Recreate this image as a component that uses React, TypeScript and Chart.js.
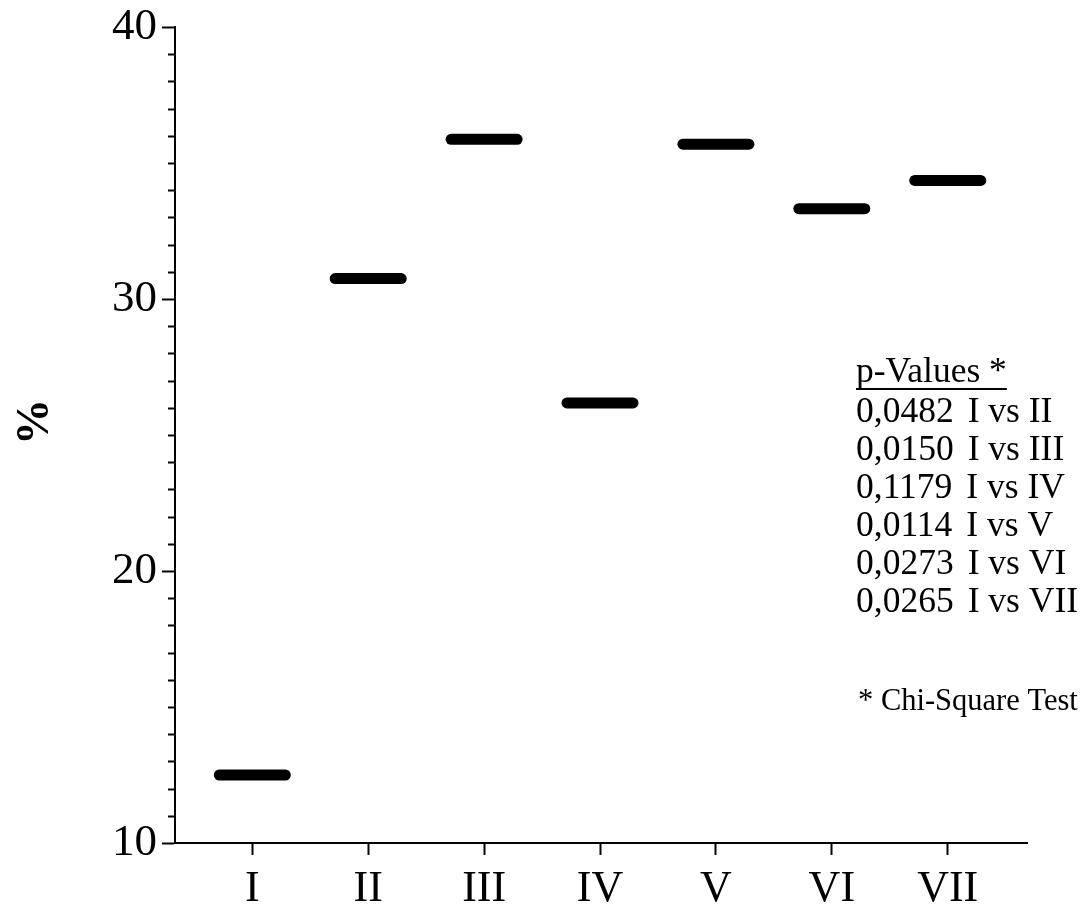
import React, { useEffect, useRef } from 'react';
import { Chart, registerables } from 'chart.js';

Chart.register(...registerables);

// Group labels and the mean percentage for each group
const categories = ['I', 'II', 'III', 'IV', 'V', 'VI', 'VII'];
const values = [12.5, 30.75, 35.87, 26.18, 35.69, 33.32, 34.36];

// Axis range and ticks
const yMin = 10;
const yMax = 40;
const yMajorStep = 10;
const yMinorStep = 1;

// Significance table
const pTitle = 'p-Values *';
const pValues = ['0,0482', '0,0150', '0,1179', '0,0114', '0,0273', '0,0265'];
const comparisons = ['I vs II', 'I vs III', 'I vs IV', 'I vs V', 'I vs VI', 'I vs VII'];
const footnote = '* Chi-Square Test';
const yTitle = '%';

const SERIF = '"Liberation Serif", "Times New Roman", Times, serif';

const minorTicksPlugin = {
  id: 'minorTicks',
  afterDraw(chart: any) {
    const scale = chart.scales.y;
    const ctx = chart.ctx;
    ctx.save();
    ctx.strokeStyle = '#000';
    ctx.lineWidth = 2;
    for (let v = yMin; v <= yMax; v += yMinorStep) {
      if (v % yMajorStep === 0) continue;
      const y = Math.round(scale.getPixelForValue(v)) + 0.5;
      ctx.beginPath();
      ctx.moveTo(scale.right - 7, y);
      ctx.lineTo(scale.right, y);
      ctx.stroke();
    }
    ctx.restore();
  },
};

const roundCapPlugin = {
  id: 'roundCap',
  beforeDatasetDraw(chart: any) {
    chart.ctx.lineCap = 'round';
  },
  afterDatasetDraw(chart: any) {
    chart.ctx.lineCap = 'butt';
  },
};

const annotationPlugin = {
  id: 'pTable',
  afterDraw(chart: any) {
    const ctx = chart.ctx;
    ctx.save();
    ctx.fillStyle = '#000';
    ctx.textAlign = 'left';
    ctx.textBaseline = 'alphabetic';

    // y-axis title
    ctx.save();
    ctx.translate(36, 422);
    ctx.rotate(-Math.PI / 2);
    ctx.textAlign = 'center';
    ctx.textBaseline = 'middle';
    ctx.font = `bold 46px ${SERIF}`;
    ctx.fillText(yTitle, 0, 0);
    ctx.restore();

    const x0 = 856;
    ctx.font = `35.5px ${SERIF}`;
    ctx.fillText(pTitle, x0, 382);
    const w = ctx.measureText(pTitle).width;
    ctx.fillRect(x0, 388, w, 2);

    pValues.forEach((p, i) => {
      const y = 422 + i * 38;
      ctx.fillText(p, x0, y);
      const pw = ctx.measureText(p).width;
      ctx.fillText(comparisons[i], x0 + pw + 14, y);
    });

    ctx.font = `30.5px ${SERIF}`;
    ctx.fillText(footnote, x0 + 2, 710);
    ctx.restore();
  },
};

export default function App() {
  const canvasRef = useRef<HTMLCanvasElement | null>(null);

  useEffect(() => {
    const canvas = canvasRef.current;
    if (!canvas) return;
    const chart = new Chart(canvas, {
      type: 'scatter',
      data: {
        datasets: [
          {
            data: values.map((v, i) => ({ x: i + 1, y: v })),
            pointStyle: 'line',
            radius: 33,
            hoverRadius: 33,
            borderWidth: 11,
            hoverBorderWidth: 11,
            borderColor: '#000',
            backgroundColor: '#000',
            clip: false as any,
          },
        ],
      },
      options: {
        responsive: false,
        animation: false,
        devicePixelRatio: 1,
        layout: { autoPadding: false, padding: { top: 27, right: 60, left: 0, bottom: 0 } },
        plugins: {
          legend: { display: false },
          tooltip: { enabled: false },
        },
        events: [],
        scales: {
          x: {
            type: 'linear',
            min: 0.333,
            max: 7.684,
            afterFit: (s: any) => {
              s.height = 62;
              s.paddingLeft = 0;
              s.paddingRight = 0;
            },
            afterBuildTicks: (s: any) => {
              s.ticks = categories.map((_, i) => ({ value: i + 1 }));
            },
            ticks: {
              callback: (v: any) => categories[Number(v) - 1] ?? '',
              font: { family: SERIF, size: 44 },
              color: '#000',
              padding: 8,
              maxRotation: 0,
              autoSkip: false,
            },
            grid: {
              drawOnChartArea: false,
              tickLength: 12,
              tickWidth: 2,
              tickColor: '#000',
            },
            border: { color: '#000', width: 2 },
          },
          y: {
            type: 'linear',
            min: yMin,
            max: yMax,
            afterFit: (s: any) => {
              s.width = 175;
              s.paddingTop = 0;
              s.paddingBottom = 0;
            },
            ticks: {
              stepSize: yMajorStep,
              font: { family: SERIF, size: 45 },
              color: '#000',
              padding: 5,
            },
            grid: {
              drawOnChartArea: false,
              tickLength: 13,
              tickWidth: 2,
              tickColor: '#000',
            },
            border: { color: '#000', width: 2 },
          },
        },
      },
      plugins: [minorTicksPlugin, roundCapPlugin, annotationPlugin],
    });
    return () => chart.destroy();
  }, []);

  return (
    <div style={{ position: 'fixed', left: 0, top: 0, width: 1087, height: 905, background: '#fff' }}>
      <canvas ref={canvasRef} width={1087} height={905} style={{ display: 'block' }} />
    </div>
  );
}
